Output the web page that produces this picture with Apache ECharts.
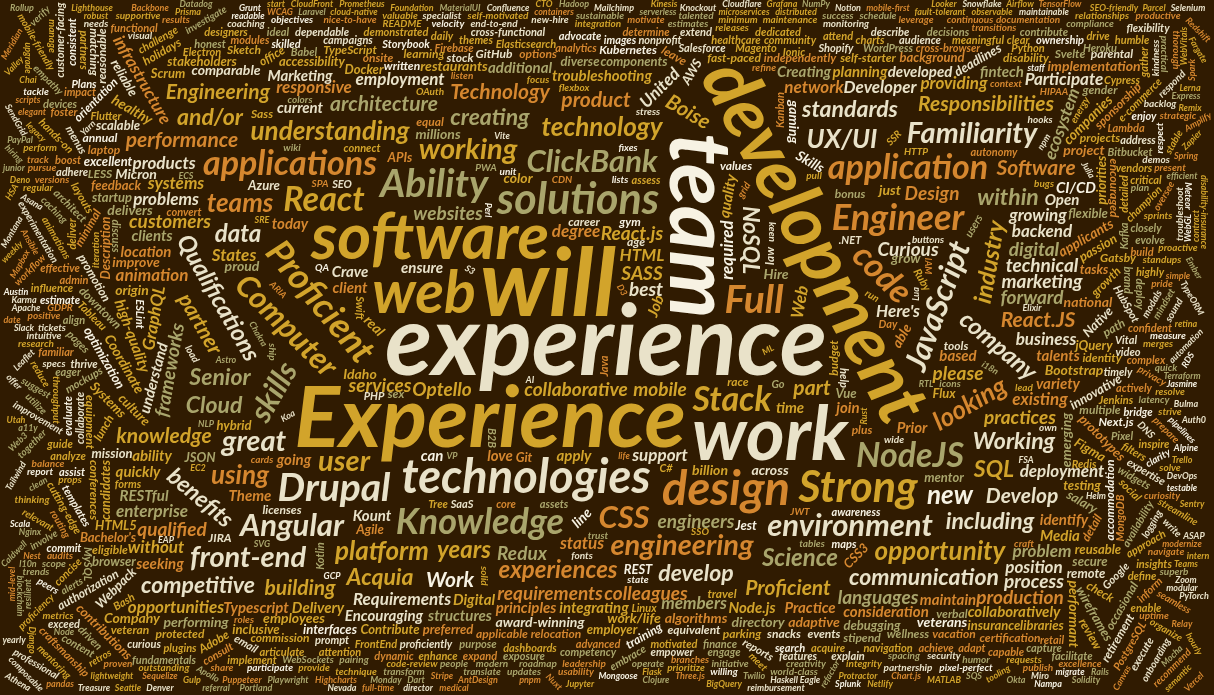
<!DOCTYPE html>
<html>
<head>
<meta charset="utf-8">
<title>Job posting word cloud</title>
<script src="https://cdn.jsdelivr.net/npm/echarts@6/dist/echarts.min.js"></script>
<style>
  html, body {
    width: 100%;
    height: 100%;
    margin: 0;
    padding: 0;
    background: #301b01;
  }
  #main {
    width: 100%;
    height: 100%;
  }
</style>
</head>
<body>
<div id="main"></div>
<script>
// words, weight ~ how big each one is drawn
// (placed in this order, first one in the middle)
var bigWords = ['experience', 'Experience', 'will', 'development', 'team', 'work', 'software', 'web'];
var bigWeights = [89, 77, 85, 65, 78, 66, 57, 51];

var tierWeights = [39, 35, 31, 28, 26, 23, 21, 18, 16, 15, 13, 11, 9, 7, 6, 5, 4, 3, 2, 1];
var tierWords = [
  ['technologies', 'design'],
  ['solutions', 'Strong'],
  ['Drupal', 'Ability', 'Full'],
  ['Knowledge', 'Engineer', 'Proficient'],
  ['application', 'applications', 'Stack', 'React', 'NodeJS', 'code'],
  ['Angular', 'ClickBank', 'environment', 'Computer', 'JavaScript', 'skills', 'CSS'],
  ['engineering', 'working', 'great', 'user', 'Familiarity', 'front-end'],
  ['understanding', 'opportunity', 'UX/UI', 'looking', 'platform', 'new', 'teams', 'technology', 'using'],
  ['Qualifications', 'company', 'industry', 'data', 'years', 'Science', 'experiences'],
  ['communication', 'including', 'NoSQL', 'Senior', 'Cloud', 'creating', 'and/or', 'benefits', 'SQL',
   'develop', 'Working', 'standards', 'Acquia', 'within', 'competitive'],
  ['Boise', 'Responsibilities', 'architecture', 'part', 'partner', 'Develop', 'Work', 'performance',
   'product', 'Proficient', 'Software', 'Technology', 'Engineering', 'building', 'React.JS', 'knowledge'],
  ['collaborative', 'mobile', 'Optello', 'React.js', 'services', 'practices', 'engineers', 'websites',
   'Curious', 'Design', 'requirements', 'forward', 'colleagues', 'qualified', 'marketing', 'customers',
   'production', 'best', 'technical', 'please', 'SASS', 'process', 'languages', 'frameworks', 'Redux', 'digital'],
  ['systems', 'support', 'position', 'backend', 'growing', 'problems', 'HTML', 'Developer', 'products',
   'Requirements', 'degree', 'responsive', 'problem', 'existing', 'business', 'network', 'status', "Here's",
   'States', 'deployment', 'animation', 'enterprise', 'GraphQL', 'ecosystem', 'Web', 'without', 'providing',
   'United', 'Participate', 'employment', 'infrastructure', 'required', 'opportunities', 'members'],
  ['time', 'current', 'ensure', 'can', 'Crave', 'seeking', 'love', 'maintain', 'Kount', 'Theme', 'Digital',
   'Typescript', 'clients', 'talents', 'location', 'today', 'apply', 'based', 'quality', 'Job', 'understand',
   'high-quality', 'ability', 'RESTful', 'Media', 'join', 'variety', 'client', 'principles', 'integrating',
   'Node.js', 'Delivery', 'Practice', 'Prior', 'going', 'identify', 'troubleshooting', 'Open', 'Marketing',
   'collaboratively', 'consideration', 'developed', 'quickly', 'planning', 'Creating', 'Encouraging', 'CI/CD',
   'structures', 'fintech', 'additional'],
  ['Idaho', 'Hire', 'Bootstrap', 'performant', 'Skills', 'millions', 'healthy', 'emerging', 'applicants',
   'Micron', 'work/life', 'comparable', 'algorithms', 'employees', 'Company', 'project', 'performing',
   'Coordinate', 'award-winning', 'directory', 'delivers', 'implementation', 'adaptive', 'proud', 'across',
   'origin', 'real', 'able', 'just', 'billion', 'color', 'improve', 'gaming', 'grow', 'line', 'veterans',
   'national', 'companies', 'restaurants'],
  ['mentor', 'Agile', 'Scrum', 'Git', 'AWS', 'Azure', 'Docker', 'Jest', 'testing', 'debugging', 'feedback',
   'culture', 'remote', 'hybrid', 'salary', 'insurance', 'flexible', 'innovative', 'scalable', 'reliable',
   'secure', 'reusable', 'components', 'libraries', 'APIs', 'REST', 'JSON', 'HTML5', 'CSS3', 'jQuery', 'Vue',
   'Webpack', 'Figma', 'wireframes', 'prototypes', 'accessibility', 'browser', 'optimization', 'passion',
   'stakeholders', 'Flux', 'interfaces', 'contributions', 'Description', 'Native', 'Contribute', 'Systems',
   'tasks', "Bachelor's", 'preferred', 'excellent', 'deadlines', 'priorities', 'startup', 'mission', 'diverse',
   'inclusive', 'employer', 'candidates', 'background'],
  ['equivalent', 'plus', 'bonus', 'written', 'verbal', 'detail', 'self-starter', 'independently', 'multiple',
   'projects', 'fast-paced', 'growth', 'values', 'equal', 'gender', 'race', 'disability', 'veteran',
   'orientation', 'identity', 'age', 'sex', 'protected', 'applicable', 'law', 'accommodation', 'reasonable',
   'encouraged', 'check', 'eligible', 'authorization', 'sponsorship', 'relocation', 'onsite', 'office',
   'downtown', 'parking', 'snacks', 'lunch', 'events', 'wellness', 'gym', 'parental', 'leave', 'holidays',
   'vacation', 'retirement', 'matching', 'stock', 'options', 'commission', 'annual', 'review', 'promotion',
   'career', 'path', 'learning', 'training', 'conferences', 'certification', 'budget', 'laptop', 'equipment',
   'tools', 'licenses', 'stipend', 'travel', 'minimal', 'occasional', 'Kubernetes', 'TypeScript', 'GitHub',
   'JIRA', 'Sass', 'LESS', 'Svelte', 'Next.js', 'Gatsby', 'Sketch', 'Adobe'],
  ['mockups', 'cross-browser', 'Python', 'Java', 'PHP', 'Ruby', 'Go', 'C#', '.NET', 'Swift', 'Kotlin',
   'Flutter', 'Ionic', 'Electron', 'WordPress', 'Shopify', 'Magento', 'Salesforce', 'HubSpot', 'SEO',
   'analytics', 'Google', 'Tableau', 'Jenkins', 'Kanban', 'Babel', 'ESLint', 'Bitbucket', 'Heroku',
   'Firebase', 'MongoDB', 'PostgreSQL', 'MySQL', 'Redis', 'Elasticsearch', 'Kafka', 'Linux', 'Bash',
   'Lambda', 'Cypress', 'Storybook', 'timely', 'prompt', 'Pixel', 'Tree', 'Day', 'FrontEnd', 'proficiently',
   'skilled', 'detailed', 'challenge', 'Plans', 'Vital', 'advanced', 'thrive', 'motivated', 'driven',
   'curious', 'humble', 'honest', 'ownership', 'impact', 'meaningful', 'purpose', 'community', 'nonprofit',
   'healthcare', 'finance', 'retail', 'e-commerce', 'SaaS', 'B2B', 'partners', 'vendors', 'users',
   'audience', 'brand', 'content', 'campaigns', 'email', 'social', 'video', 'images', 'assets', 'layouts',
   'pages', 'templates', 'themes', 'plugins', 'modules', 'widgets', 'forms', 'dashboards', 'reports',
   'charts', 'maps', 'search', 'filters', 'navigation', 'menus',
   'acquire', 'achieve', 'actively', 'adapt', 'address', 'adhere', 'admin', 'advocate', 'align', 'analyze',
   'approach', 'architect', 'articulate', 'assess', 'assist', 'attend', 'attention', 'autonomy',
   'availability', 'awareness', 'boost', 'bridge', 'build', 'capable', 'capture', 'champion', 'clear',
   'closely', 'collaborate', 'commit', 'competency', 'complex', 'concise', 'confident', 'connect',
   'consistent', 'consult', 'contribute', 'convert', 'core', 'craftsmanship', 'critical', 'cross-functional',
   'customer-facing', 'cutting-edge', 'daily', 'decisions', 'dedicated', 'define', 'deliver', 'demonstrated',
   'dependable', 'deploy', 'describe', 'designers', 'determine', 'devices', 'discuss', 'drive', 'dynamic',
   'eager', 'effective', 'embrace', 'empower', 'enable', 'engage', 'enhance', 'enjoy', 'estimate',
   'evaluate', 'evolve', 'exceed', 'execute', 'expand', 'expertise', 'explain', 'exposure', 'extend',
   'facilitate', 'familiar', 'features', 'flexibility', 'foster', 'functional', 'fundamentals', 'gather',
   'guide', 'hands-on', 'help', 'highly', 'ideal', 'implement', 'influence', 'inform', 'insights', 'inspire'],
  ['buttons', 'modals', 'tables', 'lists', 'cards', 'icons', 'fonts', 'colors', 'spacing', 'grid', 'flexbox',
   'animations', 'transitions', 'state', 'hooks', 'props', 'context', 'routing', 'SSR', 'SPA', 'PWA',
   'caching', 'CDN', 'DNS', 'HTTP', 'WebSockets', 'OAuth', 'JWT', 'SSO', 'security', 'privacy', 'GDPR',
   'HIPAA', 'compliance', 'audits', 'logging', 'monitoring', 'alerts', 'metrics', 'uptime', 'latency',
   'throughput', 'load', 'stress', 'unit', 'integration', 'end-to-end', 'QA', 'bugs', 'fixes', 'releases',
   'versions', 'branches', 'merges', 'pull', 'requests', 'code-review', 'pairing', 'standups', 'sprints',
   'retros', 'demos', 'roadmap', 'backlog', 'tickets', 'estimates', 'scope', 'specs', 'documentation',
   'wiki', 'README', 'onboarding', 'mentoring', 'coaching', 'leadership', 'initiative', 'creativity',
   'empathy', 'clarity', 'focus', 'balance', 'energy', 'humor', 'kindness', 'respect', 'trust', 'integrity',
   'excellence', 'craft', 'pride', 'curiosity', 'continuous', 'improvement', 'experimentation', 'iteration',
   'velocity',
   'intuitive', 'investigate', 'involve', 'keen', 'lead', 'leverage', 'listen', 'maintenance', 'manage',
   'measure', 'meet', 'mindset', 'minimum', 'mobile-friendly', 'modern', 'motivate', 'navigate', 'needs',
   'new-hire', 'nice-to-have', 'objectives', 'operate', 'organize', 'outstanding', 'oversee', 'own',
   'participate', 'partnership', 'peers', 'people', 'perform', 'pixel-perfect', 'plan', 'positive',
   'practical', 'prepare', 'present', 'prioritize', 'proactive', 'productive', 'professional', 'proficiency',
   'proven', 'provide', 'publish', 'pursue', 'quick', 'recommend', 'reduce', 'refine', 'regular',
   'relationships', 'relevant', 'report', 'research', 'resolve', 'respond', 'results', 'roles', 'run',
   'schedule', 'seamless', 'self-motivated', 'share', 'ship', 'solid', 'solve', 'sound', 'specialist',
   'stable', 'strategic', 'streamline', 'strive', 'success', 'suggest', 'superb', 'supportive',
   'sustainable', 'tackle', 'talented', 'technique', 'thinking', 'thorough', 'together', 'track',
   'transform', 'translate', 'trends', 'troubleshoot', 'updates', 'usability', 'utilize', 'valuable',
   'verify', 'visual', 'wide', 'willing', 'workflow', 'world-class', 'write'],
  ['refactor', 'legacy', 'migrate', 'modernize', 'upgrade', 'maintainable', 'readable', 'clean', 'elegant',
   'simple', 'robust', 'efficient', 'lightweight', 'modular', 'composable', 'testable', 'observable',
   'resilient', 'fault-tolerant', 'distributed', 'microservices', 'serverless', 'containers', 'pipelines',
   'automation', 'scripts', 'tooling', 'DevOps', 'SRE', 'cloud-native', 'GCP', 'Terraform', 'Ansible', 'Helm',
   'Nginx', 'Apache', 'Node', 'Express', 'Koa', 'Nest', 'Django', 'Flask', 'Rails', 'Laravel', 'Spring',
   'Apollo', 'Relay', 'Prisma', 'Sequelize', 'TypeORM', 'Mongoose', 'Jasmine', 'Mocha', 'Chai', 'Karma',
   'Protractor', 'Puppeteer', 'Playwright', 'Selenium', 'Lighthouse', 'WebVitals', 'SEO-friendly',
   'semantic', 'ARIA', 'WCAG', 'a11y', 'i18n', 'l10n', 'RTL', 'mobile-first', 'retina', 'SVG', 'Canvas',
   'WebGL', 'Three.js', 'D3', 'Highcharts', 'Chart.js', 'Mapbox', 'Leaflet', 'Stripe', 'PayPal', 'Twilio',
   'SendGrid', 'Mailchimp', 'Zapier', 'Slack', 'Zoom', 'Teams', 'Notion', 'Confluence', 'Trello', 'Asana',
   'Monday', 'Miro',
   'Alpine', 'Bulma', 'Chakra', 'Tailwind', 'MaterialUI', 'AntDesign', 'Foundation', 'Ember', 'Backbone',
   'Knockout', 'Meteor', 'Nuxt', 'Remix', 'Astro', 'Vite', 'Rollup', 'Parcel', 'Gulp', 'Grunt', 'npm', 'Yarn',
   'pnpm', 'Lerna', 'Deno', 'Rust', 'Elixir', 'Scala', 'Clojure', 'Haskell', 'Perl', 'Lua', 'Dart', 'MATLAB',
   'Julia', 'Solidity', 'Web3', 'blockchain', 'AI', 'ML', 'NLP', 'TensorFlow', 'PyTorch', 'pandas', 'NumPy',
   'Jupyter', 'Spark', 'Hadoop', 'Airflow', 'Snowflake', 'BigQuery', 'Redshift', 'Looker', 'Grafana',
   'Prometheus', 'Datadog', 'Sentry', 'Splunk', 'Okta', 'Auth0', 'Vercel', 'Netlify', 'Cloudflare', 'S3',
   'EC2', 'RDS', 'DynamoDB', 'SQS', 'CloudFront', 'IAM', 'ECS', 'Fargate', 'Amplify', 'Kinesis', 'Athena',
   'Meridian', 'Nampa', 'Eagle', 'Caldwell', 'Treasure', 'Valley', 'Seattle', 'Austin', 'Denver', 'Portland',
   'Utah', 'Oregon', 'Nevada', 'Montana', 'weekly', 'monthly', 'quarterly', 'yearly', 'hourly', 'full-time',
   'part-time', 'contract', 'temporary', 'permanent', 'entry-level', 'mid-level', 'lead-level', 'principal',
   'staff', 'junior', 'intern', 'apprentice', 'manager', 'director', 'VP', 'CTO', 'founder', 'recruiter',
   'hiring', 'interview', 'offer', 'start', 'date', 'immediately', 'ASAP', 'benefits-eligible', 'medical',
   'HSA', 'FSA', 'life', 'disability-insurance', 'EAP', 'tuition', 'reimbursement', 'referral', 'discounts']
];

var sizeRange = [9, 97];

// styling
var palette = {
  cream: '#e9e2c9',
  white: '#f7f2e3',
  gold: '#d2a42b',
  olive: '#a9a56c',
  orange: '#d5872f'
};
var colorGroups = {
  cream: ['experience', 'work', 'technologies', 'Drupal', 'Angular', 'environment', 'JavaScript', 'great',
    'Familiarity', 'front-end', 'UX/UI', 'Qualifications', 'company', 'data', 'communication', 'including',
    'NoSQL', 'benefits', 'develop', 'Working', 'standards', 'competitive', 'Develop', 'Curious', 'marketing',
    'best', 'technical', 'process', 'support', 'position', 'backend', 'growing', 'problems', 'Developer',
    'products', 'Requirements', 'business', "Here's", 'deployment', 'United', 'Participate', 'employment',
    'current', 'ensure', 'Crave', 'Kount', 'understand', 'Open', 'Micron', 'comparable'],
  white: ['team', 'new', 'Work', 'can', 'required', 'Skills'],
  gold: ['will', 'Experience', 'development', 'software', 'web', 'Strong', 'Proficient', 'Stack', 'React',
    'Computer', 'working', 'user', 'understanding', 'opportunity', 'platform', 'industry', 'technology',
    'years', 'and/or', 'SQL', 'Acquia', 'Boise', 'Responsibilities', 'part', 'partner', 'Engineering',
    'building', 'knowledge', 'collaborative', 'mobile', 'Optello', 'React.js', 'services', 'practices',
    'customers', 'please', 'SASS', 'systems', 'HTML', 'States', 'GraphQL', 'without', 'providing',
    'opportunities', 'time', 'Digital', 'apply', 'quality', 'Job', 'high-quality', 'ability', 'Media',
    'integrating', 'Node.js', 'Delivery', 'troubleshooting', 'Idaho', 'Bootstrap', 'performant', 'healthy',
    'work/life', 'employees', 'Company', 'Coordinate', 'Web'],
  olive: ['solutions', 'Ability', 'Knowledge', 'NodeJS', 'ClickBank', 'skills', 'Science', 'Senior', 'Cloud',
    'creating', 'within', 'architecture', 'engineers', 'websites', 'forward', 'languages', 'frameworks',
    'Redux', 'digital', 'problem', 'enterprise', 'ecosystem', 'members', 'clients', 'RESTful', 'Hire',
    'millions', 'emerging', 'performing', 'proud'],
  orange: ['design', 'Full', 'Engineer', 'application', 'applications', 'code', 'CSS', 'engineering',
    'looking', 'teams', 'using', 'experiences', 'performance', 'product', 'Software', 'Technology',
    'React.JS', 'Design', 'requirements', 'colleagues', 'qualified', 'production', 'degree', 'responsive',
    'existing', 'network', 'status', 'animation', 'infrastructure', 'seeking', 'love', 'maintain', 'Theme',
    'Typescript', 'talents', 'location', 'today', 'based', 'join', 'variety', 'client', 'principles',
    'Practice', 'Prior', 'going', 'identify', 'applicants', 'algorithms', 'project']
};
var colorCycle = ['gold', 'cream', 'orange', 'gold', 'white', 'olive', 'orange', 'cream', 'gold', 'olive'];
// clockwise degrees for the words drawn at an angle
var tilt = {
  development: 62, team: 90, JavaScript: -70, Proficient: 50, Computer: 45, code: 45, skills: -60,
  looking: -30, Qualifications: 60, company: 40, industry: -80, NoSQL: 90, benefits: 40, Boise: 30,
  partner: 60, GraphQL: -80, ecosystem: -70, Web: -80, frameworks: -80, quality: -80, United: -45,
  Job: -70, understand: -75, infrastructure: 60, required: -90, 'high-quality': 70, Skills: 30
};
var smallAngles = [-90, -60, -45, -30, 30, 45, 60, 90];
var fontFamily = 'Lato';

function hash(s) {
  var h = 2166136261;
  for (var i = 0; i < s.length; i++) {
    h ^= s.charCodeAt(i);
    h = Math.imul(h, 16777619);
  }
  return h >>> 0;
}

var colorOf = {};
Object.keys(colorGroups).forEach(function (k) {
  colorGroups[k].forEach(function (w) { colorOf[w] = palette[k]; });
});

var items = [];
bigWords.forEach(function (w, i) { items.push({ text: w, weight: bigWeights[i] }); });
tierWords.forEach(function (list, t) {
  list.forEach(function (w) { items.push({ text: w, weight: tierWeights[t] }); });
});
var wMin = Infinity, wMax = -Infinity;
items.forEach(function (it) { wMin = Math.min(wMin, it.weight); wMax = Math.max(wMax, it.weight); });
items.forEach(function (it) {
  it.size = Math.round(sizeRange[0] + (it.weight - wMin) / (wMax - wMin) * (sizeRange[1] - sizeRange[0]));
  var h = hash(it.text);
  if (tilt.hasOwnProperty(it.text)) {
    it.deg = tilt[it.text];
    delete tilt[it.text];
  } else if (it.size <= 14 && h % 7 < 2) {
    it.deg = smallAngles[(h >>> 4) % smallAngles.length];
  } else {
    it.deg = 0;
  }
  it.color = colorOf[it.text] || palette[colorCycle[(h >>> 8) % colorCycle.length]];
});

var myChart = echarts.init(document.getElementById('main'));
var W = myChart.getWidth(), H = myChart.getHeight();

// ---- spiral layout on an occupancy grid (same idea as wordcloud2) ----
var G = 4;
var gw = Math.floor(W / G), gh = Math.floor(H / G);
var occupied = new Uint8Array(gw * gh);
var mc = document.createElement('canvas');
var mctx = mc.getContext('2d', { willReadFrequently: true });

function fontOf(size) {
  return 'italic bold ' + size + 'px ' + fontFamily;
}

function makeMask(text, size, deg) {
  mctx.font = fontOf(size);
  var tw = mctx.measureText(text).width + size * 0.4;
  var th = size * 1.4;
  var rad = deg * Math.PI / 180;
  var c = Math.abs(Math.cos(rad)), s = Math.abs(Math.sin(rad));
  var bw = Math.ceil((tw * c + th * s) / G) + 2;
  var bh = Math.ceil((tw * s + th * c) / G) + 2;
  mc.width = bw * G;
  mc.height = bh * G;
  mctx.font = fontOf(size);
  mctx.fillStyle = '#000';
  mctx.textAlign = 'center';
  mctx.textBaseline = 'middle';
  mctx.translate(bw * G / 2, bh * G / 2);
  mctx.rotate(rad);
  mctx.fillText(text, 0, 0);
  var img = mctx.getImageData(0, 0, bw * G, bh * G).data;
  var rowLen = bw * G;
  var hits = new Uint8Array(bw * bh);
  for (var gy = 0; gy < bh; gy++) {
    for (var gx = 0; gx < bw; gx++) {
      var hit = 0;
      for (var yy = 0; yy < G && !hit; yy++) {
        for (var xx = 0; xx < G; xx++) {
          if (img[((gy * G + yy) * rowLen + gx * G + xx) * 4 + 3] > 0) { hit = 1; break; }
        }
      }
      hits[gy * bw + gx] = hit;
    }
  }
  // a one-cell margin round the larger words
  if (size >= 20) {
    var grown = new Uint8Array(bw * bh);
    for (var y = 0; y < bh; y++) {
      for (var x = 0; x < bw; x++) {
        if (!hits[y * bw + x]) continue;
        for (var oy = -1; oy <= 1; oy++) {
          for (var ox = -1; ox <= 1; ox++) {
            var nx = x + ox, ny = y + oy;
            if (nx >= 0 && ny >= 0 && nx < bw && ny < bh) grown[ny * bw + nx] = 1;
          }
        }
      }
    }
    hits = grown;
  }
  var cells = [];
  var x0 = bw, x1 = -1, y0 = bh, y1 = -1;
  for (var cy = 0; cy < bh; cy++) {
    for (var cx = 0; cx < bw; cx++) {
      if (!hits[cy * bw + cx]) continue;
      cells.push([cx, cy, (cx - bw / 2) * (cx - bw / 2) + (cy - bh / 2) * (cy - bh / 2)]);
      if (cx < x0) x0 = cx;
      if (cx > x1) x1 = cx;
      if (cy < y0) y0 = cy;
      if (cy > y1) y1 = cy;
    }
  }
  cells.sort(function (a, b) { return a[2] - b[2]; });
  return {
    bw: bw, bh: bh, x0: x0, x1: x1, y0: y0, y1: y1,
    cx: cells.map(function (p) { return p[0]; }),
    cy: cells.map(function (p) { return p[1]; })
  };
}

// rectangular spiral with the page's aspect, starting on the right and turning upward
var ell = H / W;
var maxR = Math.ceil(gw / 2) + 4;
var spiral = [];
var side = 2 * maxR + 1;
var seen = new Uint8Array(side * side);
for (var r = 0; r <= maxR; r++) {
  var T = r === 0 ? 1 : r * 8;
  for (var t = 0; t < T; t++) {
    var a = -t / T * 2 * Math.PI;
    var k = Math.min(1 / Math.abs(Math.cos(a) || 1e-9), 1 / Math.abs(Math.sin(a) || 1e-9));
    var dx = Math.round(r * k * Math.cos(a));
    var dy = Math.round(r * k * Math.sin(a) * ell);
    if (Math.abs(dx) > gw / 2 + 4 || Math.abs(dy) > gh / 2 + 4) continue;
    var key = (dy + maxR) * side + dx + maxR;
    if (seen[key]) continue;
    seen[key] = 1;
    spiral.push(dx, dy);
  }
}

function place(m) {
  var cgx = Math.floor(gw / 2) - Math.floor(m.bw / 2);
  var cgy = Math.floor(gh / 2) - Math.floor(m.bh / 2);
  var n = m.cx.length;
  if (!n) return null;
  for (var k = 0; k < spiral.length; k += 2) {
    var px = cgx + spiral[k], py = cgy + spiral[k + 1];
    if (px + m.x0 < 0 || py + m.y0 < 0 || px + m.x1 >= gw || py + m.y1 >= gh) continue;
    var ok = true;
    for (var i = 0; i < n; i++) {
      if (occupied[(py + m.cy[i]) * gw + px + m.cx[i]]) { ok = false; break; }
    }
    if (ok) {
      for (var j = 0; j < n; j++) occupied[(py + m.cy[j]) * gw + px + m.cx[j]] = 1;
      return [px * G + m.bw * G / 2, py * G + m.bh * G / 2];
    }
  }
  return null;
}

var placed = [];
items.forEach(function (it) {
  var pos = place(makeMask(it.text, it.size, it.deg));
  if (pos) {
    it.x = pos[0];
    it.y = pos[1];
    placed.push(it);
  }
});

myChart.setOption({
  backgroundColor: '#301b01',
  animation: false,
  grid: { left: 0, right: 0, top: 0, bottom: 0 },
  xAxis: { type: 'value', min: 0, max: W, show: false },
  yAxis: { type: 'value', min: 0, max: H, inverse: true, show: false },
  series: [{
    type: 'custom',
    coordinateSystem: 'cartesian2d',
    silent: true,
    clip: false,
    data: placed.map(function (it) { return [it.x, it.y]; }),
    renderItem: function (params, api) {
      var it = placed[params.dataIndex];
      var pt = api.coord([api.value(0), api.value(1)]);
      return {
        type: 'text',
        x: pt[0],
        y: pt[1],
        rotation: -it.deg * Math.PI / 180,
        style: {
          text: it.text,
          fill: it.color,
          fontSize: it.size,
          fontFamily: fontFamily,
          fontWeight: 'bold',
          fontStyle: 'italic',
          align: 'center',
          verticalAlign: 'middle'
        }
      };
    }
  }]
});

window.addEventListener('resize', function () {
  myChart.resize();
});
</script>
</body>
</html>
